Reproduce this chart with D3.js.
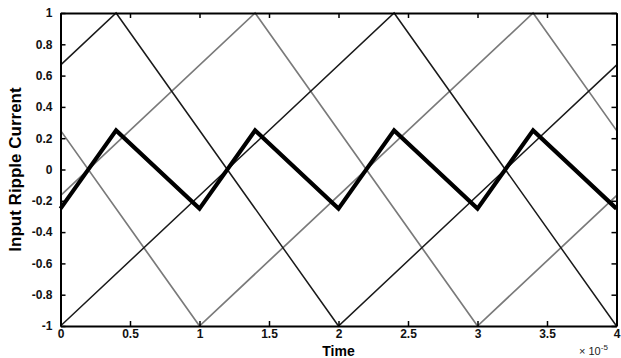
<!DOCTYPE html>
<html><head><meta charset="utf-8">
<script src="https://cdn.jsdelivr.net/npm/d3@7"></script>
<style>body{margin:0;background:#fff}</style>
</head><body>
<svg id="c" width="621" height="358"></svg>
<script>
// x values in units of 1e-5 s
const blackA = [[0,-1],[2.4,1],[4,-1]];
const blackB = [[0,0.667],[0.4,1],[2,-1],[4,0.667]];
const grayA = [[0,0.25],[1,-1],[3.4,1],[4,0.25]];
const grayB = [[0,-0.167],[1.4,1],[3,-1],[4,-0.167]];
const total = [[0,-0.25],[0.4,0.25],[1,-0.25],[1.4,0.25],[2,-0.25],[2.4,0.25],[3,-0.25],[3.4,0.25],[4,-0.25]];
const xTicks = [0,0.5,1,1.5,2,2.5,3,3.5,4];
const yTicks = [-1,-0.8,-0.6,-0.4,-0.2,0,0.2,0.4,0.6,0.8,1];

const svg = d3.select("#c");
const L=60.5,R=616.5,T=13,B=326;
const x = d3.scaleLinear().domain([0,4]).range([L,R]);
const y = d3.scaleLinear().domain([-1,1]).range([B,T]);
const font = "Liberation Sans, Arial, sans-serif";
const line = d3.line().x(d=>x(d[0])).y(d=>y(d[1]));

const g = svg.append("g");
[[grayA,"#7a7a7a",1.7],[grayB,"#7a7a7a",1.7],[blackA,"#1a1a1a",1.5],[blackB,"#1a1a1a",1.5],[total,"#000",4.2]].forEach(([d,c,w])=>{
  g.append("path").attr("d",line(d)).attr("fill","none").attr("stroke",c).attr("stroke-width",w).attr("stroke-linejoin","miter");
});

const fmt = d=>String(d);
svg.append("g").attr("transform",`translate(0,${B})`).call(d3.axisBottom(x).tickValues(xTicks).tickSizeInner(-5).tickSizeOuter(0).tickPadding(3).tickFormat(fmt));
svg.append("g").attr("transform",`translate(0,${T})`).call(d3.axisTop(x).tickValues(xTicks).tickSizeInner(-5).tickSizeOuter(0).tickFormat(""));
svg.append("g").attr("transform",`translate(${L},0)`).call(d3.axisLeft(y).tickValues(yTicks).tickSizeInner(-5).tickSizeOuter(0).tickPadding(8).tickFormat(fmt));
svg.append("g").attr("transform",`translate(${R},0)`).call(d3.axisRight(y).tickValues(yTicks).tickSizeInner(-5).tickSizeOuter(0).tickFormat(""));
svg.selectAll(".domain").attr("stroke","#000").attr("stroke-width",2);
svg.selectAll(".tick line").attr("stroke","#000").attr("stroke-width",1.5);
svg.selectAll(".tick text").attr("font-family",font).attr("font-weight","bold").attr("font-size",12).attr("fill","#111");

svg.append("text").attr("x",x(2)).attr("y",356).attr("text-anchor","middle")
  .attr("font-family",font).attr("font-weight","bold").attr("font-size",14).text("Time");
svg.append("text").attr("transform",`translate(21,${(T+B)/2}) rotate(-90)`).attr("text-anchor","middle")
  .attr("font-family","Liberation Sans Narrow, Arial Narrow, "+font).attr("font-weight","bold").attr("font-size",17).text("Input Ripple Current");
const ex = svg.append("text").attr("x",579).attr("y",355).attr("font-family",font).attr("font-size",11).attr("fill","#222");
ex.append("tspan").text("× 10");
ex.append("tspan").attr("dy",-5).attr("font-size",8).text("-5");
</script>
</body></html>
